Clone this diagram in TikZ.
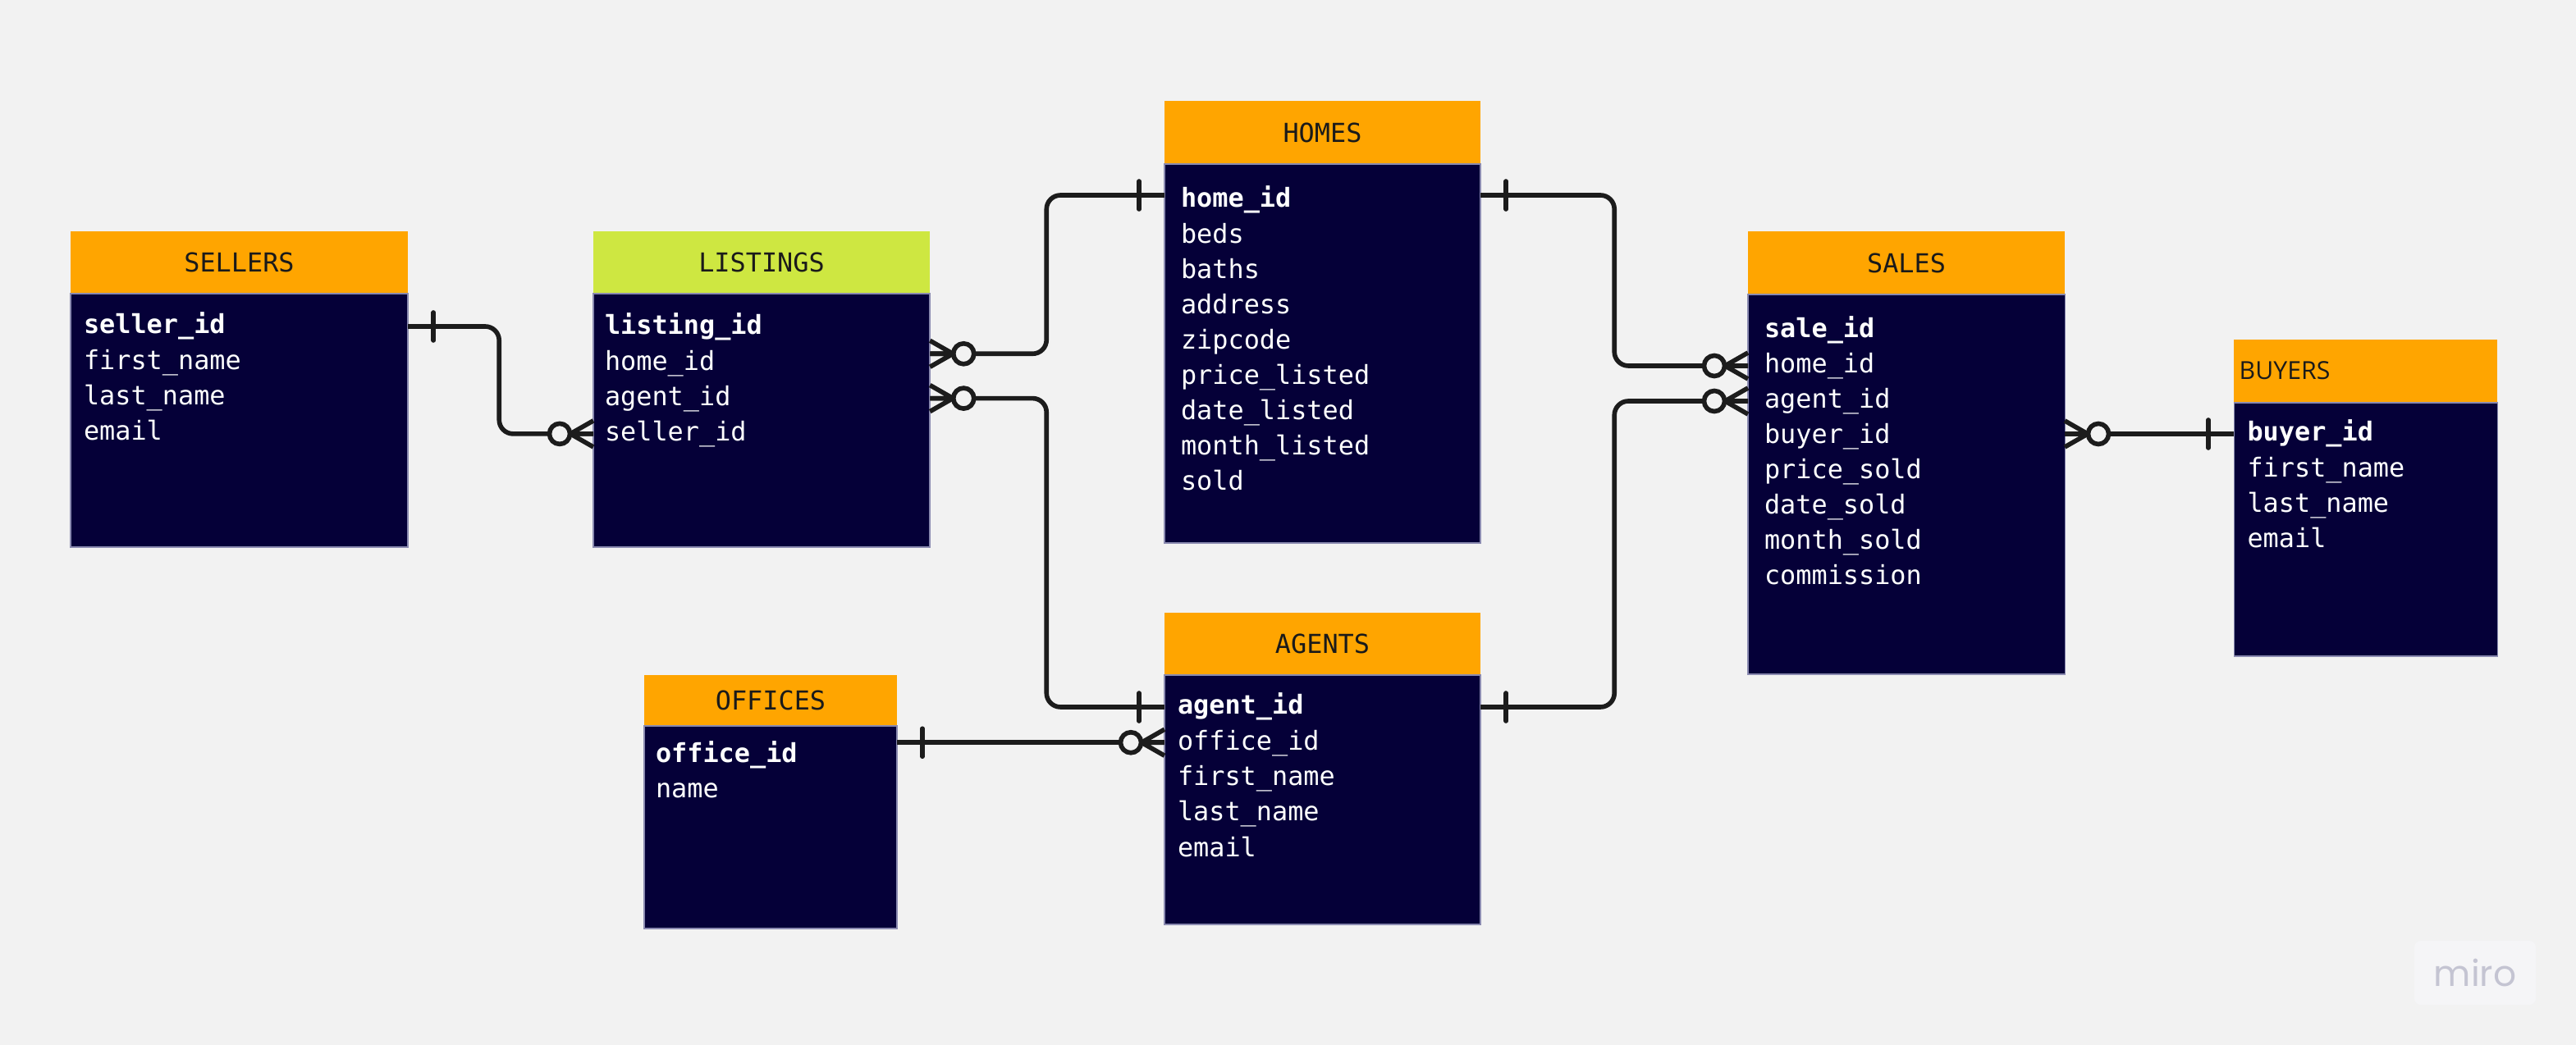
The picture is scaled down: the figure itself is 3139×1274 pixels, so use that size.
\documentclass[tikz,border=0pt]{standalone}
\usepackage{fontspec}
\setmonofont{DejaVu Sans Mono}
\newfontfamily\plexsans{Open Sans}
\newfontfamily\logofont{Poppins}
\usetikzlibrary{fit}

\definecolor{canvas}{HTML}{F2F2F2}
\definecolor{navy}{HTML}{050038}
\definecolor{amber}{HTML}{FFA500}
\definecolor{lime}{HTML}{CEE741}
\definecolor{ink}{HTML}{1C1C1C}
\definecolor{headink}{HTML}{1A1A1A}
\definecolor{edge}{HTML}{8A8AB0}
\definecolor{logoink}{HTML}{C4C4D2}
\definecolor{logobg}{HTML}{F5F5F7}

\newcommand{\fieldfont}{\fontsize{9.06}{12}\selectfont\ttfamily}

% #1 table name, #2 left x, #3 first row centre y, #4 row step,
% #5 text width, #6 side padding, #7 field list
\newcommand{\fields}[7]{%
  \foreach \t [count=\i] in {#7} {%
    \node[fieldrow={#5}{#6}, anchor=west] (#1-\i) at (#2,{#3+#4*(\i-1)}) {\t};
  }%
}

\begin{document}
\begin{tikzpicture}[x=0.01cm, y=-0.01cm,
  hdr/.style={fill=#1, inner sep=0pt, outer sep=0pt},
  title/.style={inner sep=0pt, font=\fieldfont, text=headink},
  tbody/.style={fill=navy, draw=edge, line width=0.3pt, inner sep=0pt, outer sep=0pt},
  fieldrow/.style 2 args={text width=#1, inner xsep=#2, inner ysep=0pt, outer sep=0pt,
    text height=0.24cm, text depth=0.06cm, align=left, font=\fieldfont, text=white},
  conn/.style={draw=ink, line width=1.6pt, rounded corners=1.7mm},
  markline/.style={draw=ink, line width=1.6pt},
  erone/.pic={\draw[markline, line cap=round] (31,-17) -- (31,17);},
  ermany/.pic={\draw[markline] (0,-16) -- (28,0) -- (0,16) (0,0) -- (28,0);
               \draw[markline, fill=canvas] (41,0) circle[radius=1.25mm];}
]
\fill[canvas] (0,0) rectangle (3139,1274);
\useasboundingbox (0,0) rectangle (3139,1274);

% SELLERS
\node[hdr=amber, fit={(86,282) (497,358)}] (sellers-h) {};
\node[title] (sellers-t) at (sellers-h.center) {SELLERS};
\node[tbody, fit={(86,358) (497,667)}] (sellers) {};
\fields{sellers}{86}{398}{43.3}{3.79cm}{1.6mm}{{\bfseries seller\_id},first\_name,last\_name,email}

% LISTINGS
\node[hdr=lime, fit={(723,282) (1133,358)}] (listings-h) {};
\node[title] (listings-t) at (listings-h.center) {LISTINGS};
\node[tbody, fit={(723,358) (1133,667)}] (listings) {};
\fields{listings}{723}{399}{43.3}{3.82cm}{1.4mm}{{\bfseries listing\_id},home\_id,agent\_id,seller\_id}

% HOMES
\node[hdr=amber, fit={(1419,123) (1804,200)}] (homes-h) {};
\node[title] (homes-t) at (homes-h.center) {HOMES};
\node[tbody, fit={(1419,200) (1804,662)}] (homes) {};
\fields{homes}{1419}{244}{43.1}{3.45cm}{2mm}{{\bfseries home\_id},beds,baths,address,zipcode,price\_listed,date\_listed,month\_listed,sold}

% AGENTS
\node[hdr=amber, fit={(1419,747) (1804,823)}] (agents-h) {};
\node[title] (agents-t) at (agents-h.center) {AGENTS};
\node[tbody, fit={(1419,823) (1804,1127)}] (agents) {};
\fields{agents}{1419}{862}{43.25}{3.53cm}{1.6mm}{{\bfseries agent\_id},office\_id,first\_name,last\_name,email}

% OFFICES
\node[hdr=amber, fit={(785,823) (1093,885)}] (offices-h) {};
\node[title] (offices-t) at (offices-h.center) {OFFICES};
\node[tbody, fit={(785,885) (1093,1132)}] (offices) {};
\fields{offices}{785}{921}{42.7}{2.80cm}{1.4mm}{{\bfseries office\_id},name}

% SALES
\node[hdr=amber, fit={(2130,282) (2516,359)}] (sales-h) {};
\node[title] (sales-t) at (sales-h.center) {SALES};
\node[tbody, fit={(2130,359) (2516,822)}] (sales) {};
\fields{sales}{2130}{403}{43.0}{3.46cm}{2mm}{{\bfseries sale\_id},home\_id,agent\_id,buyer\_id,price\_sold,date\_sold,month\_sold,commission}

% BUYERS
\node[hdr=amber, fit={(2722,414) (3043,491)}] (buyers-h) {};
\node[anchor=base west, inner sep=0pt, text=headink,
      font=\plexsans\fontsize{8.6}{10}\selectfont] (buyers-t) at (2728,463) {BUYERS};
\node[tbody, fit={(2722,491) (3043,800)}] (buyers) {};
\fields{buyers}{2722}{529}{43.3}{2.88cm}{1.65mm}{{\bfseries buyer\_id},first\_name,last\_name,email}

% relationships
\draw[conn] (sellers-1.east) -- ++(111,0) |- (listings-4.west);
\draw[conn] ([yshift=1.1mm]listings-2.east) -- ++(142,0) |- ([yshift=0.6mm]homes-1.west);
\draw[conn] (listings-3.east) -- ++(142,0) |- (agents-1.west);
\draw[conn] ([yshift=0.6mm]homes-1.east) -- ++(163,0) |- (sales-2.west);
\draw[conn] (agents-1.east) -- ++(163,0) |- (sales-3.west);
\draw[conn] (sales.east |- buyers-1.west) -- (buyers-1.west);
\draw[conn] (offices.east |- agents-2.west) -- (agents-2.west);

% cardinality marks
\pic at (sellers-1.east) {erone};
\pic[xscale=-1] at (listings-4.west) {ermany};
\pic at ([yshift=1.1mm]listings-2.east) {ermany};
\pic[xscale=-1] at ([yshift=0.6mm]homes-1.west) {erone};
\pic at (listings-3.east) {ermany};
\pic[xscale=-1] at (agents-1.west) {erone};
\pic at ([yshift=0.6mm]homes-1.east) {erone};
\pic[xscale=-1] at (sales-2.west) {ermany};
\pic at (agents-1.east) {erone};
\pic[xscale=-1] at (sales-3.west) {ermany};
\pic at (sales.east |- buyers-1.west) {ermany};
\pic[xscale=-1] at (buyers-1.west) {erone};
\pic at (offices.east |- agents-2.west) {erone};
\pic[xscale=-1] at (agents-2.west) {ermany};

% logo
\node[fill=logobg, rounded corners=0.8mm, minimum width=1.48cm, minimum height=0.78cm,
      inner sep=0pt, text=logoink, font=\logofont\fontsize{12.5}{14}\selectfont] (logo) at (3016,1186) {miro};
\end{tikzpicture}
\end{document}
